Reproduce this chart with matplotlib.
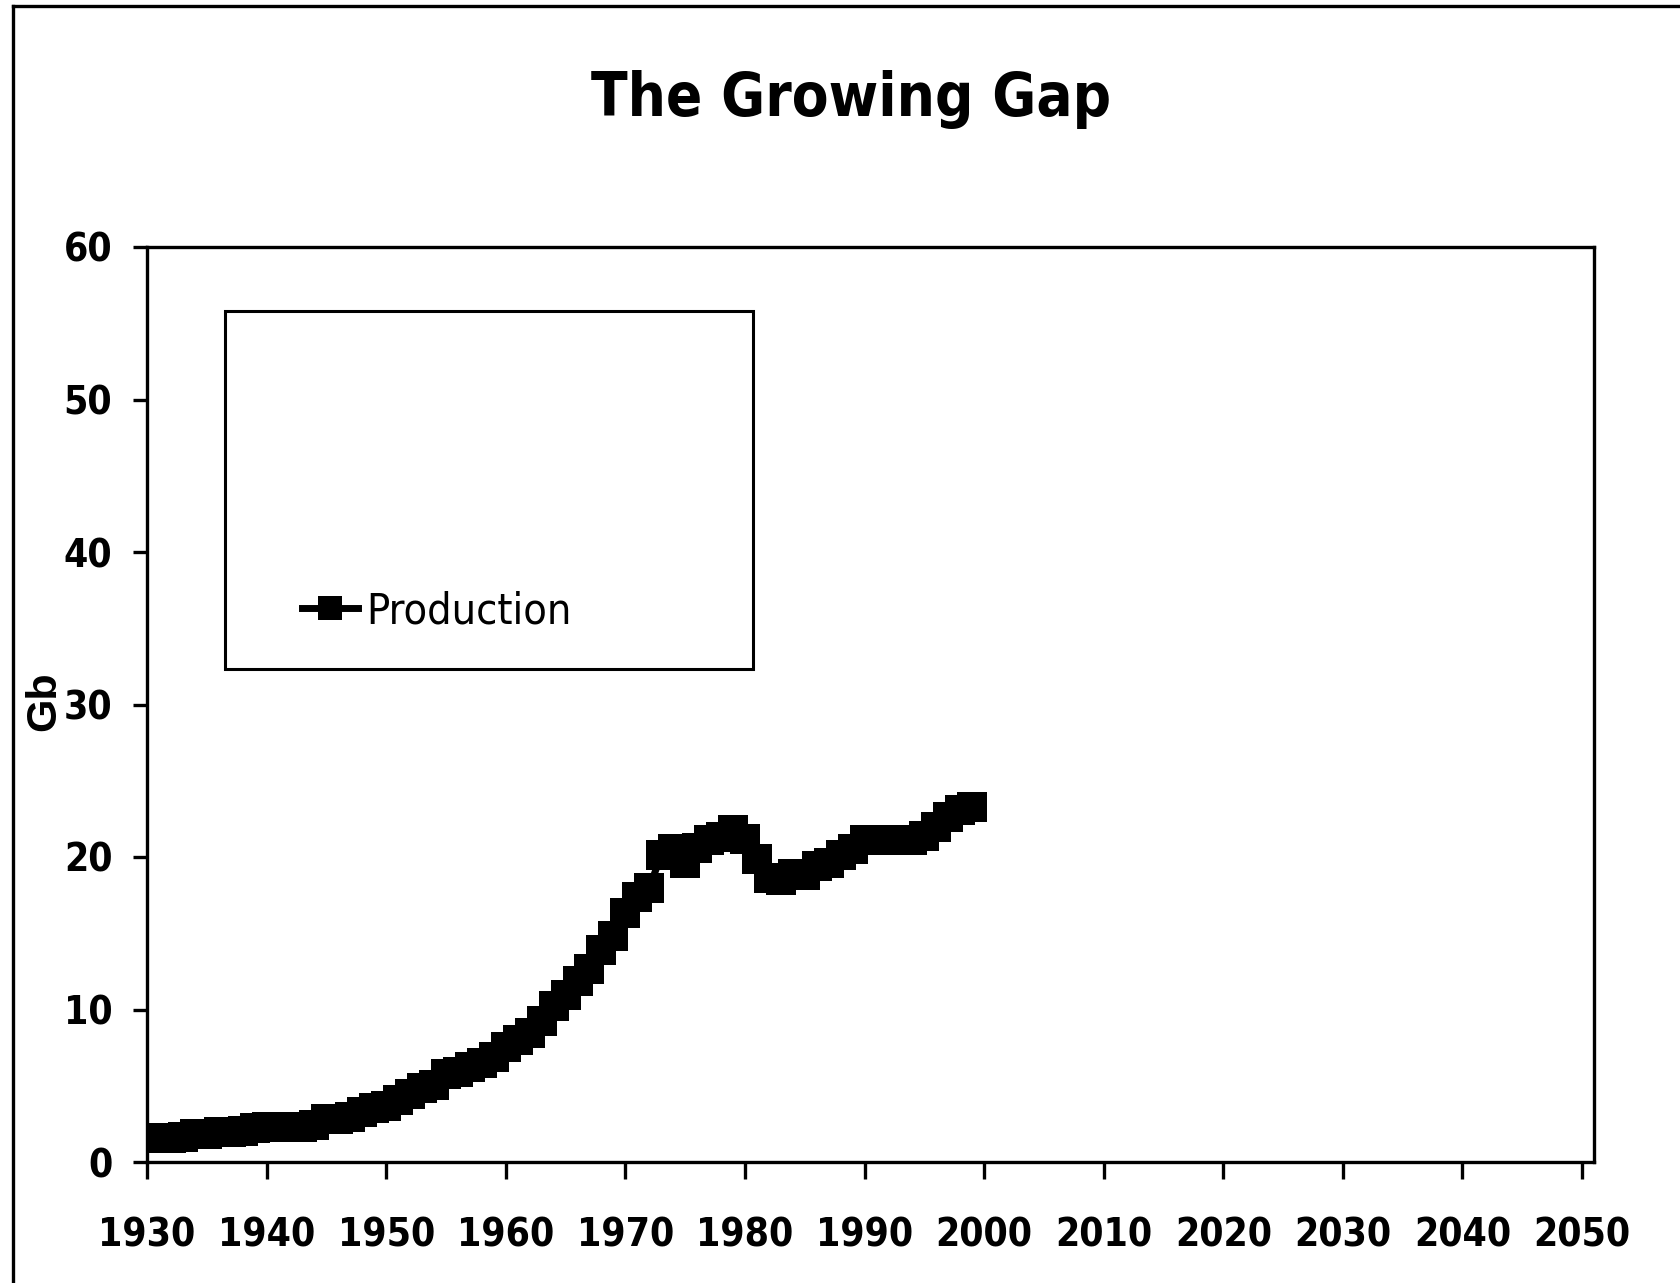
import matplotlib
matplotlib.use("Agg")
import matplotlib.pyplot as plt
from matplotlib.lines import Line2D
from matplotlib.patches import Rectangle

# world oil production, Gb per year
years = list(range(1930, 2000))
production = [
    1.57, 1.57, 1.57, 1.62, 1.81, 1.81, 1.97, 2.00, 2.05, 2.25,   # 1930s
    2.29, 2.29, 2.29, 2.29, 2.42, 2.82, 2.82, 2.97, 3.30, 3.56,   # 1940s
    3.69, 4.06, 4.45, 4.83, 5.03, 5.77, 5.90, 6.25, 6.49, 6.90,   # 1950s
    7.56, 8.00, 8.44, 9.27, 10.2, 10.95, 11.9, 12.65, 13.9, 14.8,  # 1960s
    16.3, 17.4, 18.0, 20.1, 20.5, 19.6, 20.6, 21.1, 21.3, 21.8,   # 1970s
    21.2, 19.9, 18.6, 18.5, 18.9, 18.8, 19.4, 19.6, 20.1, 20.5,   # 1980s
    21.1, 21.1, 21.1, 21.1, 21.1, 21.4, 22.0, 22.6, 23.1, 23.3,   # 1990s
]

x_ticks = list(range(1930, 2051, 10))
y_ticks = [0, 10, 20, 30, 40, 50, 60]

NARROW = ["DejaVu Sans"]
W, H = 1681, 1283

fig = plt.figure(figsize=(W / 100, H / 100), dpi=100)
ax = fig.add_axes([147 / W, 1 - 1162 / H, 1447 / W, 915 / H])

ax.plot(years, production, color="black", lw=5, marker="s",
        markersize=21, markeredgewidth=0, label="Production")

ax.set_xlim(1930, 2051)
ax.set_ylim(0, 60)
ax.set_xticks(x_ticks)
ax.set_yticks(y_ticks)
ax.set_xticklabels([str(t) for t in x_ticks], family=NARROW,
                   fontstretch="condensed", fontweight="bold", fontsize=28)
ax.set_yticklabels([str(t) for t in y_ticks], family=NARROW,
                   fontstretch="condensed", fontweight="bold", fontsize=28)
ax.tick_params(axis="x", direction="out", length=12, width=2.4, pad=27)
ax.tick_params(axis="y", direction="out", length=10, width=2.4, pad=15)
for sp in ax.spines.values():
    sp.set_linewidth(2.4)

fig.text(44 / W, 1 - 701 / H, "Gb", rotation=90, ha="center", va="center",
         family=["Liberation Sans", "DejaVu Sans"], fontweight="bold",
         fontsize=31)

# legend box (frame drawn separately, entry sits near its bottom)
ax.add_patch(Rectangle(((225 - 147) / 1447, (1162 - 669) / 915),
                       (753 - 225) / 1447, (669 - 311) / 915,
                       transform=ax.transAxes, fill=False,
                       edgecolor="black", lw=2.2, clip_on=False))
handle = Line2D([], [], color="black", lw=5, marker="s", markersize=17,
                markeredgewidth=0)
leg = ax.legend([handle], ["Production"], loc="center left",
                bbox_to_anchor=((302 - 147) / 1447, (1162 - 611) / 915),
                frameon=False, borderpad=0, borderaxespad=0,
                handlelength=1.3, handletextpad=0.2,
                prop={"family": NARROW, "stretch": "condensed", "size": 31})

fig.text(851 / W, 1 - 116 / H, "The Growing Gap", ha="center",
         va="baseline", family=NARROW, fontstretch="condensed",
         fontweight="bold", fontsize=43)

# outer frame edges (left and top only are visible)
fig.add_artist(Line2D([13 / W, 13 / W], [0, 1 - 6 / H],
                      transform=fig.transFigure, color="black", lw=2.4))
fig.add_artist(Line2D([13 / W, 1], [1 - 6 / H, 1 - 6 / H],
                      transform=fig.transFigure, color="black", lw=2.4))

fig.savefig("out.png", dpi=100)
plt.close(fig)
